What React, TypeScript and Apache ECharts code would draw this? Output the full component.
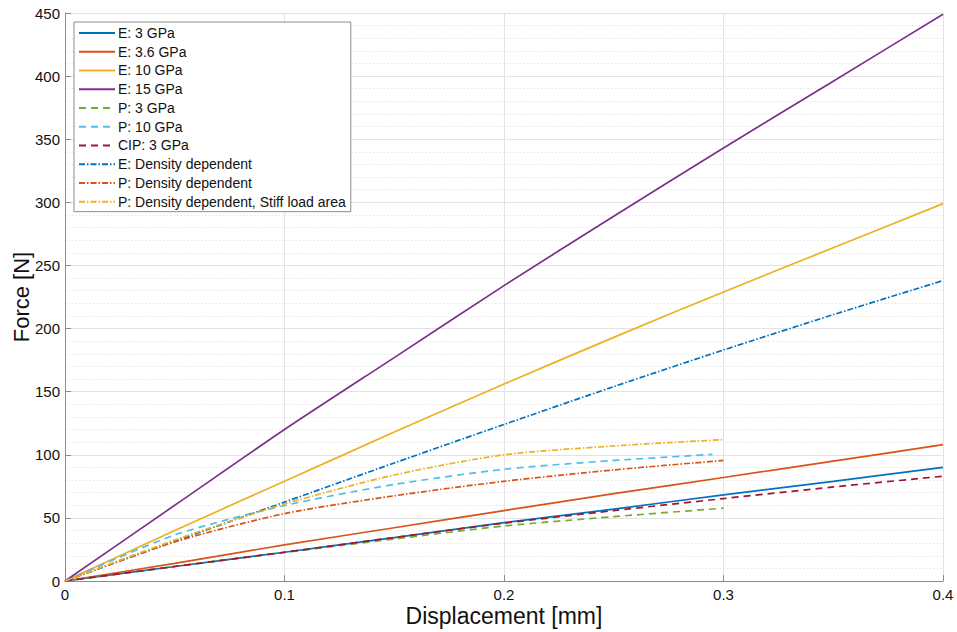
import React, { useEffect, useRef } from "react";
import * as echarts from "echarts";

// Displacement [mm] sample points
const xFull = [0, 0.05, 0.1, 0.15, 0.2, 0.25, 0.3, 0.35, 0.4];
const xShort = [0, 0.05, 0.1, 0.15, 0.2, 0.25, 0.3];
const xP10 = [0, 0.05, 0.1, 0.15, 0.2, 0.25, 0.295];

// Force [N]
const e3 = [0, 11.5, 22.8, 34.4, 46.2, 57, 68.2, 79, 90];
const e36 = [0, 14, 28.6, 42.2, 55.8, 69.2, 82, 95, 108];
const e10 = [0, 40, 79, 118, 156, 193, 229, 264, 299];
const e15 = [0, 60, 120, 177, 234, 289, 343, 396, 449];
const p3 = [0, 11.5, 22.6, 33.3, 43.6, 51, 57.7];
const p10 = [0, 36.5, 59.8, 76.5, 88.5, 95.5, 100.3];
const cip3 = [0, 11.5, 22.8, 34.5, 45.8, 55.8, 65.3, 74.5, 83];
const eDens = [0, 31.5, 62.5, 93.5, 124, 154, 183, 211, 238];
const pDens = [0, 31, 53.4, 67.5, 79, 88, 95.5];
const pDensStiff = [0, 32.5, 61, 84, 100, 107, 112];

const names = [
  "E: 3 GPa",
  "E: 3.6 GPa",
  "E: 10 GPa",
  "E: 15 GPa",
  "P: 3 GPa",
  "P: 10 GPa",
  "CIP: 3 GPa",
  "E: Density dependent",
  "P: Density dependent",
  "P: Density dependent, Stiff load area",
];

const colors = ["#0072BD", "#D95319", "#EDB120", "#7E2F8E", "#77AC30", "#4DBEEE", "#A2142F", "#0072BD", "#D95319", "#EDB120"];

const DASH = [7, 5];
const DASHDOT = [6, 2, 1.5, 2];

const seriesDefs: { x: number[]; y: number[]; dash: any }[] = [
  { x: xFull, y: e3, dash: "solid" },
  { x: xFull, y: e36, dash: "solid" },
  { x: xFull, y: e10, dash: "solid" },
  { x: xFull, y: e15, dash: "solid" },
  { x: xShort, y: p3, dash: DASH },
  { x: xP10, y: p10, dash: DASH },
  { x: xFull, y: cip3, dash: DASH },
  { x: xFull, y: eDens, dash: DASHDOT },
  { x: xShort, y: pDens, dash: DASHDOT },
  { x: xShort, y: pDensStiff, dash: DASHDOT },
];

const FONT = "'Liberation Sans', Arial, Helvetica, sans-serif";

export default function App() {
  const ref = useRef<HTMLDivElement>(null);
  useEffect(() => {
    if (!ref.current) return;
    const chart = echarts.init(ref.current, undefined, { renderer: "svg" });
    chart.setOption({
      animation: false,
      backgroundColor: "#ffffff",
      textStyle: { fontFamily: FONT },
      grid: { left: 65, right: 14, top: 13, bottom: 51, containLabel: false, outerBoundsMode: "none" },
      legend: {
        orient: "vertical",
        left: 74,
        top: 22,
        data: names,
        itemWidth: 36,
        itemHeight: 14,
        itemGap: 4.74,
        padding: [4, 5, 3, 4],
        backgroundColor: "#ffffff",
        borderColor: "#8c8c8c",
        borderWidth: 1,
        borderRadius: 0,
        itemStyle: { color: "transparent", borderColor: "transparent", borderWidth: 0, opacity: 0 },
        textStyle: { fontSize: 14, color: "#111", fontFamily: FONT, padding: [0, 0, 0, -2] },
      },
      xAxis: {
        type: "value",
        min: 0,
        max: 0.4,
        interval: 0.1,
        name: "Displacement [mm]",
        nameLocation: "middle",
        nameGap: 23,
        nameMoveOverlap: false,
        nameTextStyle: { fontSize: 23, color: "#111", fontFamily: FONT },
        axisLine: { show: true, onZero: false, lineStyle: { color: "#8c8c8c", width: 1 } },
        axisTick: { show: true, inside: true, length: 6, lineStyle: { color: "#8c8c8c" } },
        axisLabel: { fontSize: 15, color: "#111", margin: 6, fontFamily: FONT },
        splitLine: { show: true, lineStyle: { color: "#e3e3e3", width: 1 } },
        minorTick: { show: false },
      },
      yAxis: {
        type: "value",
        min: 0,
        max: 450,
        interval: 50,
        name: "Force [N]",
        nameLocation: "middle",
        nameGap: 33,
        nameMoveOverlap: false,
        nameTextStyle: { fontSize: 22, color: "#111", fontFamily: FONT },
        axisLine: { show: true, onZero: false, lineStyle: { color: "#8c8c8c", width: 1 } },
        axisTick: { show: true, inside: true, length: 6, lineStyle: { color: "#8c8c8c" } },
        axisLabel: { fontSize: 15, color: "#111", margin: 5, fontFamily: FONT },
        splitLine: { show: true, lineStyle: { color: "#e3e3e3", width: 1 } },
        minorTick: { show: false, splitNumber: 5 },
        minorSplitLine: { show: true, lineStyle: { color: "#e6e6e6", width: 1, type: [1.5, 2] } },
      },
      series: seriesDefs.map((s, i) => ({
        name: names[i],
        type: "line",
        data: s.x.map((xv, j) => [xv, s.y[j]]),
        showSymbol: false,
        symbol: "none",
        smooth: 0.25,
        color: colors[i],
        lineStyle: { color: colors[i], width: 1.7, type: s.dash },
        emphasis: { disabled: true },
      })),
    });
    return () => chart.dispose();
  }, []);
  return (
    <div
      ref={ref}
      style={{ position: "fixed", left: 0, top: 0, width: 957, height: 632, background: "#fff" }}
    />
  );
}
